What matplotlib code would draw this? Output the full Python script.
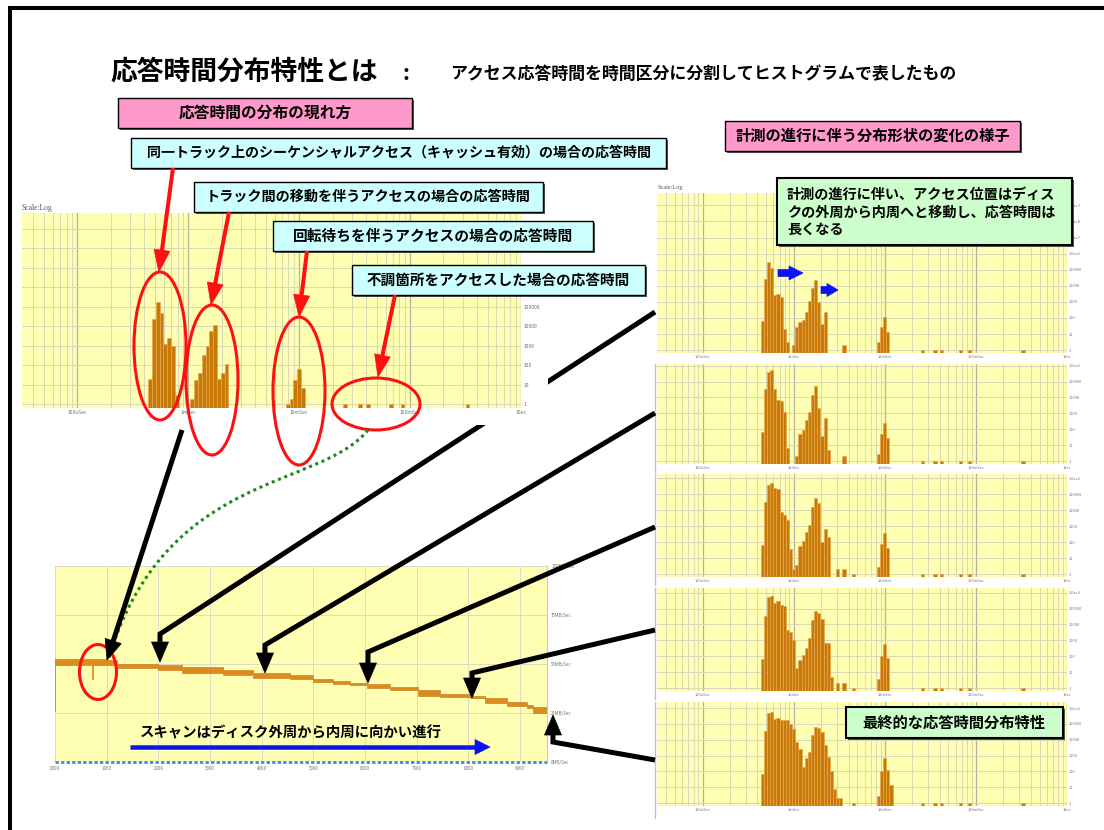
"""Response-time distribution overview: log histograms and the scan-rate chart."""

import matplotlib

matplotlib.use("Agg")

import matplotlib.pyplot as plt
import numpy as np
from matplotlib.patches import Ellipse, PathPatch, Polygon, Rectangle
from matplotlib.path import Path
from matplotlib.ticker import LogLocator, NullLocator

plt.rcParams["font.family"] = ["Noto Sans CJK JP", "DejaVu Sans"]

W, H = 1104, 830
YELLOW = "#ffffb4"
BAR = "#c97a06"
BAR_EDGE = "#e6a550"
GRID = "#d9d6b4"
GRID_MAJOR = "#b4b29c"

# histogram bins are 1/29 decade wide, bin 0 starts at 10^-4.5 s
BIN_DEC = 1 / 29
LOG_T0 = -4.5
COUNT_FLOOR = 10 ** -0.18

TIME_TICKS = [1e-4, 1e-3, 1e-2, 1e-1, 1.0]
TIME_LABELS = ["100uSec", "1mSec", "10mSec", "100mSec", "1Sec"]
COUNT_LABELS = ["1", "10", "100", "1000", "10000", "100000",
                "1.0e+6", "1.0e+7", "1.0e+8", "1.0e+9"]

# bins hit only once (slow accesses), same in every histogram
STRAY_BINS = [84, 88, 90, 96, 99, 116]

# overall distribution: first bin of each group and its counts
OVERVIEW_START = [33, 44, 69]
OVERVIEW_COUNTS = [
    [21, 25000, 174000, 50000, 1300, 2600, 930, 3],
    [2, 18, 40, 350, 930, 5600, 12000, 21, 40, 115],
    [1, 2, 18, 63, 7],
]

# distribution as the measurement goes on (stage 1 .. 5)
STAGE1_START = [33, 43, 59, 70]
STAGE1_COUNTS = [
    [63, 28000, 310000, 135000, 2600, 3000, 1900, 22, 3],
    [2, 28, 58, 72, 240, 1150, 7800, 22000, 1000, 41, 240],
    [2],
    [3, 28, 120, 14],
]
STAGE2_START = [33, 44, 59, 70]
STAGE2_COUNTS = [
    [70, 32000, 420000, 520000, 32000, 6900, 6300, 1150, 7],
    [2, 50, 90, 380, 1260, 14000, 52000, 2300, 37, 480, 5],
    [2],
    [3, 50, 260, 27],
]
STAGE3_START = [33, 57, 59, 62, 70]
STAGE3_COUNTS = [
    [68, 35000, 380000, 540000, 234000, 214000, 8100, 5000, 2500, 36, 2,
     4, 59, 126, 460, 1200, 17000, 56000, 30000, 110, 650, 200],
    [2],
    [2],
    [1],
    [3, 80, 400, 46],
]
STAGE4_START = [33, 57, 59, 62, 70]
STAGE4_COUNTS = [
    [66, 35000, 520000, 630000, 220000, 280000, 174000, 150000, 4200, 3200,
     1100, 18, 60, 123, 320, 1400, 18000, 66000, 52000, 22000, 680, 680, 5],
    [2],
    [2],
    [1],
    [4, 98, 620, 80],
]
STAGE5_START = [33, 62, 70]
STAGE5_COUNTS = [
    [72, 36000, 490000, 560000, 214000, 250000, 186000, 170000, 170000,
     105000, 45000, 7600, 2500, 200, 680, 1800, 19500, 65000, 59000, 32000,
     4700, 800, 100, 8, 2, 2],
    [1],
    [3, 100, 680, 117, 15],
]

# transfer rate over the scan (MB/s), step segments
SCAN_EDGES = [0, 1000, 1194, 2000, 2452, 3258, 3839, 4548, 5000, 5387, 5710,
              6032, 6484, 7032, 7451, 8032, 8322, 8742, 9129, 9258, 9520]
SCAN_HIGH = [52.6, 51.9, 50.0, 49.7, 48.3, 46.8, 45.6, 44.5, 42.6, 41.2,
             40.4, 39.6, 38.4, 36.7, 34.9, 33.9, 32.5, 30.5, 29.3, 27.9]
SCAN_LOW = [49.5, 49.5, 47.8, 47.1, 45.6, 44.4, 42.7, 42.5, 41.0, 40.0,
            39.2, 38.0, 36.8, 33.8, 33.3, 32.7, 29.9, 28.5, 27.7, 25.2]
DIP_POS = [0, 741]
DIP_LOW = [25.5, 41.8]
SCAN_TICKS = [0, 1000, 2000, 3000, 4000, 5000, 6000, 7000, 8000, 9000]
SCAN_LABELS = ["0000", "1000", "2000", "3000", "4000", "5000", "6000",
               "7000", "8000", "9000"]
RATE_TICKS = [0, 25, 50, 75, 100]
RATE_LABELS = ["0MB/Sec", "25MB/Sec", "50MB/Sec", "75MB/Sec", "100MB/Sec"]


def px_rect(x0, y0, x1, y1):
    return [x0 / W, 1 - y1 / H, (x1 - x0) / W, (y1 - y0) / H]


def pt(px):
    return px * 0.72


def overlay(z):
    ax = fig.add_axes([0, 0, 1, 1], zorder=z)
    ax.set_xlim(0, W)
    ax.set_ylim(H, 0)
    ax.axis("off")
    return ax


def histogram(rect, starts, counts, top_exp, z=1, fs=2.8, n_labels=None):
    ax = fig.add_axes(px_rect(*rect), zorder=z)
    ax.set_facecolor(YELLOW)
    ax.set_xscale("log")
    ax.set_yscale("log")
    groups = list(zip(starts, counts)) + [(k, [1]) for k in STRAY_BINS]
    for k0, vals in groups:
        k = np.arange(k0, k0 + len(vals))
        left = 10 ** (LOG_T0 + k * BIN_DEC)
        right = 10 ** (LOG_T0 + (k + 1) * BIN_DEC)
        ax.bar(left, np.asarray(vals, float) - COUNT_FLOOR, width=right - left,
               bottom=COUNT_FLOOR, align="edge", color=BAR,
               edgecolor=BAR_EDGE, linewidth=0.5)
    ax.set_xlim(10 ** LOG_T0, 1.0)
    ax.set_ylim(COUNT_FLOOR, 10 ** top_exp)
    ax.set_xticks(TIME_TICKS, TIME_LABELS)
    ax.xaxis.set_minor_locator(LogLocator(base=10, subs=np.arange(2, 10)))
    n = int(np.floor(top_exp)) + 1
    labels = [s if (n_labels is None or i < n_labels) else "" for i, s in enumerate(COUNT_LABELS[:n])]
    ax.set_yticks([10.0 ** i for i in range(n)], labels)
    ax.yaxis.set_minor_locator(NullLocator())
    ax.yaxis.tick_right()
    ax.tick_params(which="both", length=0, labelsize=fs, colors="#707070", pad=1.5)
    ax.tick_params(axis="x", which="minor", labelbottom=False)
    ax.grid(True, which="minor", axis="x", color=GRID, lw=0.7)
    ax.grid(True, which="major", axis="x", color=GRID_MAJOR, lw=0.9)
    ax.grid(True, which="major", axis="y", color=GRID, lw=0.7)
    ax.set_axisbelow(True)
    for s in ax.spines.values():
        s.set_visible(False)
    return ax


def arrow(ax, pts, color, width, head_w, head_l):
    pts = np.asarray(pts, dtype=float)
    d = pts[-1] - pts[-2]
    d /= np.hypot(*d)
    base = pts[-1] - d * head_l
    shaft = np.vstack([pts[:-1], base + d * 2])
    ax.plot(shaft[:, 0], shaft[:, 1], color=color, lw=pt(width),
            solid_capstyle="butt", solid_joinstyle="miter")
    n = np.array([-d[1], d[0]]) * head_w / 2
    ax.add_patch(Polygon([pts[-1], base + n, base - n], closed=True,
                         fc=color, ec=color, lw=0.5))


def block_arrow(ax, x0, x1, y, body_h, head_l, head_h, color):
    xb = x1 - head_l
    ax.add_patch(Polygon([(x0, y - body_h / 2), (xb, y - body_h / 2), (xb, y - head_h / 2),
                          (x1, y), (xb, y + head_h / 2), (xb, y + body_h / 2),
                          (x0, y + body_h / 2)], closed=True, fc=color, ec=color, lw=0.5))


def note_box(ax, x0, y0, x1, y1, fc, lw=1.0):
    ax.add_patch(Rectangle((x0 + 2, y0 + 2), x1 - x0, y1 - y0, fc="#555555", ec="none"))
    ax.add_patch(Rectangle((x0, y0), x1 - x0, y1 - y0, fc=fc, ec="black", lw=lw))


fig = plt.figure(figsize=(W / 100, H / 100), dpi=100)

# --- stage histograms on the right ---
histogram((657, 193, 1067, 353), STAGE1_START, STAGE1_COUNTS, 9.77)
histogram((657, 364, 1067, 464), STAGE2_START, STAGE2_COUNTS, 6.1)
histogram((657, 474, 1067, 577), STAGE3_START, STAGE3_COUNTS, 6.27)
histogram((657, 588, 1067, 691), STAGE4_START, STAGE4_COUNTS, 6.29)
histogram((657, 702, 1067, 806), STAGE5_START, STAGE5_COUNTS, 6.38)

# --- transfer rate across the disk ---
ax = fig.add_axes(px_rect(55, 566, 547, 762), zorder=1)
ax.set_facecolor(YELLOW)
edges = np.asarray(SCAN_EDGES, float)
lo = np.r_[SCAN_LOW, SCAN_LOW[-1]]
hi = np.r_[SCAN_HIGH, SCAN_HIGH[-1]]
ax.fill_between(edges, lo, hi, step="post", fc="#dc8c1e", ec="#c27412", lw=0.4)
seg = np.searchsorted(edges, DIP_POS, side="right") - 1
ax.vlines(DIP_POS, DIP_LOW, np.asarray(SCAN_LOW)[seg], color="#d9891a", lw=1.2)
ax.plot([0, SCAN_EDGES[-1]], [0, 0], color="#3d8fd6", lw=2,
        ls=(0, (1.2, 0.8)), clip_on=False)
ax.set_xlim(0, SCAN_EDGES[-1])
ax.set_ylim(0, 100)
ax.set_xticks(SCAN_TICKS, SCAN_LABELS)
ax.set_yticks(RATE_TICKS, RATE_LABELS)
ax.yaxis.tick_right()
ax.tick_params(length=0, labelsize=3.2, colors="#707070", pad=3)
ax.grid(True, color="#dcdac4", lw=0.7)
ax.set_axisbelow(True)
for name, s in ax.spines.items():
    s.set_visible(name == "right")
ax.spines["right"].set_color("#c8c8c8")

# --- arrows from each stage down to the scan position (under the overview) ---
mid = overlay(2)
mid.text(658, 188, "Scale:Log", fontsize=4.5, family="Liberation Serif", color="#555555", va="center")
for y0, y1 in [(364, 472), (474, 585), (588, 699), (702, 818)]:
    mid.plot([655, 655], [y0, y1], color="#a9c9ea", lw=1)
for pts in [[(655, 312), (160, 634), (160, 662)],
            [(655, 413), (265, 645), (265, 673)],
            [(655, 527), (368, 652), (368, 683)],
            [(655, 630), (472, 673), (472, 698)],
            [(655, 760), (553, 742), (553, 715)]]:
    arrow(mid, pts, "black", 5, 17, 20)

# --- overview histogram (top left); upper count labels sit under the notes ---
cover = overlay(3)
cover.add_patch(Rectangle((18, 200), 530, 225, fc="white", ec="none"))
cover.text(22, 208, "Scale:Log", fontsize=5.5, family="Liberation Serif", color="#555555", va="center")
histogram((22, 213, 521, 408), OVERVIEW_START, OVERVIEW_COUNTS, 9.8, z=4, fs=3.6, n_labels=6)

# --- titles, notes and pointers ---
top = overlay(10)
top.plot([8, W], [8, 8], color="black", lw=pt(4), solid_capstyle="butt")
top.plot([10, 10], [8, H], color="black", lw=pt(4), solid_capstyle="butt")

top.text(110, 72, "応答時間分布特性とは", fontsize=19.3, weight="bold", va="center")
top.text(402, 74, ":", fontsize=15, weight="bold", va="center")
top.text(450, 74, "アクセス応答時間を時間区分に分割してヒストグラムで表したもの",
         fontsize=12.2, weight="bold", va="center")

boxes = [
    ((118, 98, 412, 128), "#ff99cc", "応答時間の分布の現れ方", 11.3),
    ((131, 138, 666, 168), "#ccffff", "同一トラック上のシーケンシャルアクセス（キャッシュ有効）の場合の応答時間", 10.1),
    ((725, 121, 1020, 151), "#ff99cc", "計測の進行に伴う分布形状の変化の様子", 11.0),
    ((194, 182, 543, 212), "#ccffff", "トラック間の移動を伴うアクセスの場合の応答時間", 10.2),
    ((273, 221, 593, 251), "#ccffff", "回転待ちを伴うアクセスの場合の応答時間", 10.6),
    ((352, 265, 645, 295), "#ccffff", "不調箇所をアクセスした場合の応答時間", 10.5),
]
for (x0, y0, x1, y1), fc, label, fs in boxes:
    note_box(top, x0, y0, x1, y1, fc)
    top.text((x0 + x1) / 2, (y0 + y1) / 2, label, fontsize=fs, weight="bold",
             ha="center", va="center")

note_box(top, 777, 178, 1072, 245, "#ccffcc", lw=1.5)
for i, line in enumerate(["計測の進行に伴い、アクセス位置はディス",
                          "クの外周から内周へと移動し、応答時間は",
                          "長くなる"]):
    top.text(787, 195 + 17.5 * i, line, fontsize=10.2, weight="bold", va="center")

note_box(top, 846, 707, 1063, 738, "#ccffcc", lw=1.5)
top.text(954, 722.5, "最終的な応答時間分布特性", fontsize=11, weight="bold",
         ha="center", va="center")

block_arrow(top, 778, 803, 273, 7, 14, 14, "#0a14f0")
block_arrow(top, 821, 838, 290, 7, 11, 13, "#0a14f0")

for pts in [[(173, 168), (159, 272)], [(229, 212), (211, 305)],
            [(307, 251), (299, 317)], [(395, 295), (378, 377)]]:
    arrow(top, pts, "#ff1010", 4, 16, 22)
for (cx, cy), w, h in [((160, 346), 52, 148), ((212, 380), 52, 150),
                       ((299, 391), 52, 148), ((376, 404), 88, 52),
                       ((98, 672), 37, 55)]:
    top.add_patch(Ellipse((cx, cy), w, h, fill=False, ec="#ff1010", lw=2.2))

curve = Path([(368, 430), (320, 490), (165, 470), (108, 660)],
             [Path.MOVETO, Path.CURVE4, Path.CURVE4, Path.CURVE4])
top.add_patch(PathPatch(curve, fill=False, ec="#1b8a1b", lw=2.2, ls=(0, (1, 1.2))))

arrow(top, [(182, 430), (107, 660)], "black", 5, 17, 20)

top.text(140, 733, "スキャンはディスク外周から内周に向かい進行", fontsize=10.4,
         weight="bold", va="center")
arrow(top, [(130, 747), (490, 747)], "#0a14f0", 4.5, 15, 15)

fig.savefig("out.png", dpi=100)
